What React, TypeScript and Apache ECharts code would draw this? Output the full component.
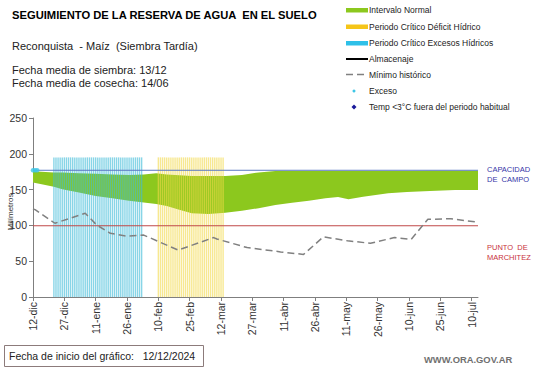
import React, { useEffect, useRef } from "react";
import * as echarts from "echarts";

// ---- data ----
const tickDays = [0, 15, 30, 45, 60, 75, 90, 105, 120, 135, 150, 165, 180, 195, 210];
const tickLabels = [
  "12-dic", "27-dic", "11-ene", "26-ene", "10-feb", "25-feb", "12-mar", "27-mar",
  "11-abr", "26-abr", "11-may", "26-may", "10-jun", "25-jun", "10-jul",
];
const lastDay = 213;

// Intervalo normal (band)
const bandDays = [0, 10, 14, 22, 30, 38, 46, 53, 59, 64, 70, 76, 84, 92, 100, 108, 116, 124, 132, 140, 146, 151, 158, 170, 179, 190, 202, 213];
const bandLower = [160, 154, 150.5, 146, 141, 138, 134.5, 132, 130, 127, 122, 117, 116, 117.5, 120.5, 124, 128.5, 131.5, 134.5, 138, 139.5, 136.5, 140, 145, 146.5, 148, 149.5, 149.5];
const bandUpper = [175.5, 174, 174, 173, 172, 171, 170.5, 171, 173, 171, 170, 169, 169, 169, 170.5, 174, 176, 176, 176, 176, 176, 176, 176, 176, 176, 176.5, 176.5, 176.5];

// Mínimo histórico
const minHistDays = [0, 1, 10.5, 25, 30.5, 37, 45, 53, 69.5, 86.5, 88, 102.5, 118.5, 129.5, 139, 150.5, 161.5, 173, 181, 189, 200, 213];
const minHistValues = [123, 122, 103, 117, 100.5, 89, 85, 86.5, 65.5, 83, 81, 69, 63, 59.5, 84, 78.5, 75, 83, 80.5, 108.5, 109.3, 104.5];

// Periodos críticos (start day, end day)
const excesosPeriod = [10, 52];
const deficitPeriod = [60, 91];
const periodTop = 195;

const capacidadCampo = 177;
const puntoMarchitez = 99.5;

const excesoDays = [0, 1, 2];
const excesoValues = [177, 177, 177];

// ---- styles ----
const FONT = "'Liberation Sans', Arial, sans-serif";
const GREEN = "#8CC81E";
const CYAN = "#3FBCD8";
const YELLOW = "#F2D848";

export default function App() {
  const ref = useRef<HTMLDivElement>(null);

  useEffect(() => {
    if (!ref.current) return;
    const chart = echarts.init(ref.current, undefined, { renderer: "svg" });

    const minPairs = minHistDays.map((d, i) => [d, minHistValues[i]]);

    const barItems: any[] = [];
    for (let d = excesosPeriod[0]; d <= excesosPeriod[1]; d++) {
      barItems.push({ value: [d, periodTop], itemStyle: { color: CYAN, opacity: 0.62 } });
    }
    for (let d = deficitPeriod[0]; d <= deficitPeriod[1]; d++) {
      barItems.push({ value: [d, periodTop], itemStyle: { color: YELLOW, opacity: 0.6 } });
    }

    const legendRows = [
      { y: 10, text: "Intervalo Normal" },
      { y: 26.5, text: "Periodo Crítico Déficit Hídrico" },
      { y: 43, text: "Periodo Crítico Excesos Hídricos" },
      { y: 59, text: "Almacenaje" },
      { y: 74.5, text: "Mínimo histórico" },
      { y: 91, text: "Exceso" },
      { y: 107, text: "Temp <3°C fuera del periodo habitual" },
    ];

    const txt = (x: number, y: number, text: string, fontSize: number, fill: string, fontWeight: any = "normal", extra: any = {}) => ({
      type: "text",
      x,
      y,
      silent: true,
      style: { text, fontSize, fill, fontWeight, fontFamily: FONT, verticalAlign: "middle", align: "left", ...extra },
    });

    const graphic: any[] = [
      txt(12, 15, "SEGUIMIENTO DE LA RESERVA DE AGUA  EN EL SUELO", 11.2, "#000", "bold"),
      txt(12, 46, "Reconquista  - Maíz  (Siembra Tardía)", 11, "#222"),
      txt(12, 69.5, "Fecha media de siembra: 13/12", 11, "#222"),
      txt(12, 83, "Fecha media de cosecha: 14/06", 11, "#222"),
      // legend symbols
      { type: "rect", shape: { x: 346, y: 8, width: 22, height: 4.5 }, style: { fill: GREEN } },
      { type: "rect", shape: { x: 346, y: 24.5, width: 22, height: 4.5 }, style: { fill: "#F5C518" } },
      { type: "rect", shape: { x: 346, y: 41, width: 22, height: 4.5 }, style: { fill: "#2EC0E8" } },
      { type: "line", shape: { x1: 346, y1: 59, x2: 368, y2: 59 }, style: { stroke: "#000", lineWidth: 2 } },
      { type: "line", shape: { x1: 346, y1: 74.5, x2: 368, y2: 74.5 }, style: { stroke: "#808080", lineWidth: 1.5, lineDash: [7, 4] } },
      { type: "circle", shape: { cx: 354, cy: 91, r: 1.5 }, style: { fill: "#3EC6E6" } },
      { type: "polygon", shape: { points: [[354, 104.5], [356.5, 107], [354, 109.5], [351.5, 107]] }, style: { fill: "#1A1A9A" } },
      ...legendRows.map((r) => txt(369, r.y, r.text, 8.5, "#222")),
      // right labels
      txt(487, 169, "CAPACIDAD", 7.5, "#3535A8"),
      txt(487, 179, "DE  CAMPO", 7.5, "#3535A8"),
      txt(487, 247, "PUNTO  DE", 7.5, "#C8323C"),
      txt(487, 257, "MARCHITEZ", 7.5, "#C8323C"),
      // y axis name
      {
        type: "text",
        x: 10,
        y: 212,
        rotation: Math.PI / 2,
        silent: true,
        style: { text: "Milímetros", fontSize: 8, fill: "#333", fontFamily: FONT, align: "center", verticalAlign: "middle" },
      },
      // bottom box
      { type: "rect", shape: { x: 4.5, y: 345.5, width: 199, height: 21 }, style: { fill: "#fff", stroke: "#8c7b7b", lineWidth: 1 } },
      txt(9, 356, "Fecha de inicio del gráfico:   12/12/2024", 10.5, "#222"),
      txt(424, 359, "WWW.ORA.GOV.AR", 9.4, "#707070", "bold"),
    ];

    chart.setOption({
      animation: false,
      backgroundColor: "#fff",
      textStyle: { fontFamily: FONT },
      grid: { left: 33, right: 63, top: 118, bottom: 71, containLabel: false },
      graphic,
      xAxis: {
        type: "value",
        min: 0,
        max: lastDay,
        splitLine: { show: false },
        axisLine: { show: true, lineStyle: { color: "#7f7f7f", width: 1 } },
        axisTick: { show: true, length: 4, lineStyle: { color: "#7f7f7f" }, customValues: tickDays },
        axisLabel: {
          customValues: tickDays,
          rotate: 90,
          fontSize: 10.5,
          color: "#333",
          margin: 5,
          formatter: (v: number) => {
            const i = tickDays.indexOf(Math.round(v));
            return i >= 0 ? tickLabels[i] : "";
          },
        },
      },
      yAxis: {
        type: "value",
        min: 0,
        max: 250,
        interval: 50,
        splitLine: { show: false },
        axisLine: { show: true, lineStyle: { color: "#7f7f7f", width: 1 } },
        axisTick: { show: true, length: 4, lineStyle: { color: "#7f7f7f" } },
        axisLabel: { fontSize: 10.5, color: "#333", margin: 6 },
      },
      series: [
        {
          name: "Intervalo Normal",
          type: "custom",
          data: [[0, 0]],
          silent: true,
          z: 1,
          renderItem: (_params: any, api: any) => {
            const top = bandDays.map((d, i) => api.coord([d, bandUpper[i]]));
            const bottom = bandDays.map((d, i) => api.coord([d, bandLower[i]])).reverse();
            return {
              type: "polygon",
              shape: { points: top.concat(bottom) },
              style: { fill: GREEN },
            };
          },
        },
        {
          name: "Periodos",
          type: "bar",
          data: barItems,
          barWidth: 1.4,
          silent: true,
          z: 2,
        },
        {
          name: "Capacidad de campo",
          type: "line",
          data: [[0, capacidadCampo], [lastDay, capacidadCampo]],
          symbol: "none",
          lineStyle: { color: "#5B78C2", width: 1 },
          z: 3,
        },
        {
          name: "Punto de marchitez",
          type: "line",
          data: [[0, puntoMarchitez], [lastDay, puntoMarchitez]],
          symbol: "none",
          lineStyle: { color: "#C04848", width: 1 },
          z: 3,
        },
        {
          name: "Mínimo histórico",
          type: "line",
          data: minPairs,
          symbol: "none",
          lineStyle: { color: "#808080", width: 1.5, type: [7, 4] },
          z: 4,
        },
        {
          name: "Exceso",
          type: "scatter",
          data: excesoDays.map((d, i) => [d, excesoValues[i]]),
          symbol: "circle",
          symbolSize: 4.5,
          itemStyle: { color: "#3EC6E6" },
          clip: false,
          z: 5,
        },
      ],
    });

    return () => chart.dispose();
  }, []);

  return (
    <div
      ref={ref}
      style={{ position: "absolute", left: 0, top: 0, width: 541, height: 368, background: "#fff" }}
    />
  );
}
